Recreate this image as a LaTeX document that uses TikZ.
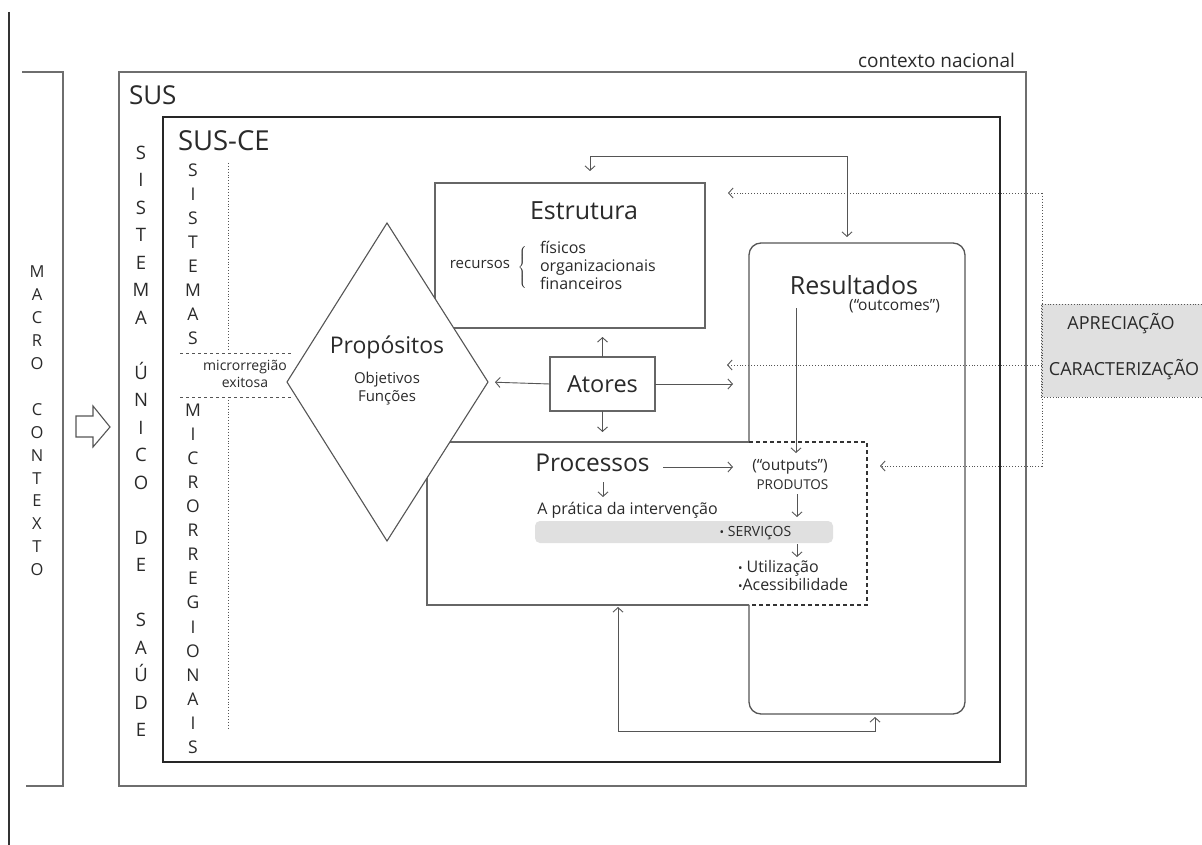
\documentclass[tikz,border=0pt]{standalone}
\usepackage{fontspec}
\setmainfont{Open Sans}
\usetikzlibrary{arrows.meta}
\definecolor{lc}{HTML}{555555}
\definecolor{tc}{HTML}{2A2A2A}
\definecolor{gfill}{HTML}{E0E0E0}
\begin{document}
\begin{tikzpicture}[x=1pt,y=-1pt,
  every node/.style={text=tc, inner sep=0pt, outer sep=0pt},
  ln/.style={draw=lc, line width=1.1pt},
  gline/.style={draw=lc!85, line width=1.5pt},
  box/.style={draw=lc!90, line width=1.5pt, fill=white},
  arr/.style={draw=lc, line width=0.9pt, -{Straight Barb[length=4.5pt,width=10pt]}},
  barr/.style={draw=lc, line width=0.9pt, {Straight Barb[length=4.5pt,width=10pt]}-{Straight Barb[length=4.5pt,width=10pt]}},
  darr/.style={draw=lc, line width=0.9pt, dotted, -{Straight Barb[length=4.5pt,width=10pt]}},
  dline/.style={draw=lc, line width=0.9pt, dotted},
  dashln/.style={draw=lc, line width=1pt, dash pattern=on 3pt off 3pt},
  ttl/.style={font=\fontsize{25}{28}\selectfont},
  col/.style={align=center},
  bul/.style={},
]
\useasboundingbox (0,0) rectangle (1202,845);
\fill[white] (0,0) rectangle (1202,845);

% outer left line and macro bracket
\draw[draw=black!80, line width=1.3pt] (9,12) -- (9,845);
\draw[gline] (22,72) -- (63,72) -- (63,786) -- (26,786);
\node[col, font=\fontsize{16.5}{22.9}\selectfont] (macro) at (37,421)
  {M\\A\\C\\R\\O\\\mbox{}\\C\\O\\N\\T\\E\\X\\T\\O};

% hollow arrow
\draw[draw=lc, line width=1.1pt, fill=white] (76,416) -- (93,416) -- (93,406) -- (110,427) -- (93,447) -- (93,437) -- (76,437) -- cycle;

% SUS box
\draw[gline] (119,72) rectangle (1026,786);
\node[anchor=east, font=\fontsize{19}{22}\selectfont] (ctx) at (1015,60) {contexto nacional};
\node[anchor=west, font=\fontsize{26}{29}\selectfont] (sus) at (129,95) {SUS};
\node[col, font=\fontsize{18.5}{27.5}\selectfont] (sistema) at (141,441.5)
  {S\\I\\S\\T\\E\\M\\A\\\mbox{}\\Ú\\N\\I\\C\\O\\\mbox{}\\D\\E\\\mbox{}\\S\\A\\Ú\\D\\E};

% SUS-CE box
\draw[draw=black!85, line width=2.8pt] (163,117) rectangle (1000,762);
\node[anchor=west, font=\fontsize{27.5}{30}\selectfont] (susce) at (178,141) {SUS-CE};
\node[col, font=\fontsize{17.5}{24.04}\selectfont] (sistemas) at (193,458.5)
  {S\\I\\S\\T\\E\\M\\A\\S\\\mbox{}\\\mbox{}\\M\\I\\C\\R\\O\\R\\R\\E\\G\\I\\O\\N\\A\\I\\S};

% microrregion dashed / dotted lines
\draw[dline] (228,163) -- (228,350);
\draw[dline] (228,397) -- (228,728);
\draw[dashln] (180,353) -- (292,353);
\draw[dashln] (180,397) -- (292,397);
\node[col, font=\fontsize{14}{17}\selectfont] (micro) at (245,374) {microrregião\\exitosa};

% Estrutura
\node[box, minimum width=270pt, minimum height=145pt] (estr) at (570,255.5) {};
\node[ttl] (estrT) at (584,211) {Estrutura};
\node[anchor=east, font=\fontsize{15}{18}\selectfont] (recur) at (510,264) {recursos};
\node (brace) at (523,267) {\fontsize{14}{14}\selectfont$\left\{\rule{0pt}{25pt}\right.$};
\node[anchor=west, align=left, font=\fontsize{16}{18}\selectfont] (recl) at (540,265) {físicos\\organizacionais\\financeiros};

% Resultados
\node[draw=lc, line width=1.3pt, rounded corners=12pt, minimum width=216pt, minimum height=471pt] (res) at (857,478.5) {};
\node[ttl] (resT) at (854,285) {Resultados};
\node[font=\fontsize{15.5}{18}\selectfont] (outc) at (894.5,306) {(“outcomes”)};

% Processos
\node[fill=white, minimum width=440pt, minimum height=163pt] (proc) at (647,523.5) {};
\draw[box, fill=none] (749,442) -- (proc.north west) -- (proc.south west) -- (749,605);
\draw[draw=black!80, line width=2pt, dash pattern=on 4pt off 3pt] (749,442) -- (proc.north east) -- (proc.south east) -- (749,605);
\node[fill=gfill, rounded corners=5pt, minimum width=298pt, minimum height=22pt] (bar) at (684,532) {};

% Propositos diamond
\draw[draw=lc, line width=1.1pt, fill=white] (387,223) -- (488,382) -- (387,541) -- (287,382) -- cycle;
\coordinate (propR) at (488,382);
\node[font=\fontsize{23}{26}\selectfont] (propT) at (387,347) {Propósitos};
\node[col, font=\fontsize{15}{18}\selectfont] (objf) at (387,389) {Objetivos\\Funções};

% Atores
\node[box, minimum width=105pt, minimum height=54pt] (ator) at (602.5,384) {};
\node[font=\fontsize{23.5}{26}\selectfont] (atorT) at (602.5,384) {Atores};

% Processos texts
\node[font=\fontsize{24.5}{27}\selectfont] (procT) at (592.5,463) {Processos};
\node[font=\fontsize{15.5}{18}\selectfont] (outp) at (790,467) {(“outputs”)};
\node[font=\fontsize{13.5}{17}\selectfont] (prod) at (792.5,485) {PRODUTOS};
\node[font=\fontsize{16}{19}\selectfont] (prat) at (627.5,510) {A prática da intervenção};
\node[font=\fontsize{14}{17}\selectfont] (serv) at (755.5,533) {{\fontsize{12}{12}\selectfont•} SERVIÇOS};
\node[anchor=west, align=left, font=\fontsize{16}{18}\selectfont] (util) at (738,575) {{\fontsize{12}{12}\selectfont•} Utilização\\{\fontsize{12}{12}\selectfont•}Acessibilidade};

% connectors from Atores
\draw[arr, shorten >=9pt] (ator.north) -- (ator.north |- estr.south);
\draw[arr, shorten >=7pt] (ator.west) -- (propR);
\draw[arr, shorten >=16pt] (ator.east) -- (ator.east -| res.west);
\draw[arr, shorten >=10pt] (ator.south) -- (ator.south |- proc.north);

% top loop
\coordinate (t1) at (590,156);
\coordinate (t2) at (847,156);
\draw[barr, shorten <=12pt, shorten >=6pt] (t1 |- estr.north) -- (t1) -- (t2) -- (t2 |- res.north);

% bottom loop
\coordinate (b1) at (618,731);
\coordinate (b2) at (875,731);
\draw[barr, shorten <=2pt, shorten >=3pt] (b1 |- proc.south) -- (b1) -- (b2) -- (b2 |- res.south);

% inner arrows
\coordinate (r1) at (796,308);
\draw[arr] (r1) -- (796,453);
\coordinate (pa) at (663,467);
\coordinate (pb) at (733,467);
\draw[arr] (pa) -- (pb);
\draw[arr] (603,482) -- (603,497);
\draw[arr] (797,494) -- (797,517);
\draw[arr] (797,544) -- (797,557);

% apreciacao box and dotted arrows
\node[draw=lc, dotted, line width=0.9pt, fill=gfill, minimum width=166pt, minimum height=93pt] (apr) at (1124,350.5) {};
\node[font=\fontsize{18}{21}\selectfont] (aprT) at (1121,324) {APRECIAÇÃO};
\node[font=\fontsize{18}{21}\selectfont] (carT) at (1124,370) {CARACTERIZAÇÃO};
\coordinate (d1) at (1042,193);
\coordinate (d2) at (1042,365);
\coordinate (d3) at (1042,466);
\coordinate (e1) at (728,193);
\coordinate (e2) at (727,365);
\coordinate (e3) at (880,466);
\draw[dline] (d1) -- (d3);
\draw[darr] (d1) -- (e1);
\draw[darr] (d2) -- (e2);
\draw[darr] (d3) -- (e3);
\end{tikzpicture}
\end{document}
